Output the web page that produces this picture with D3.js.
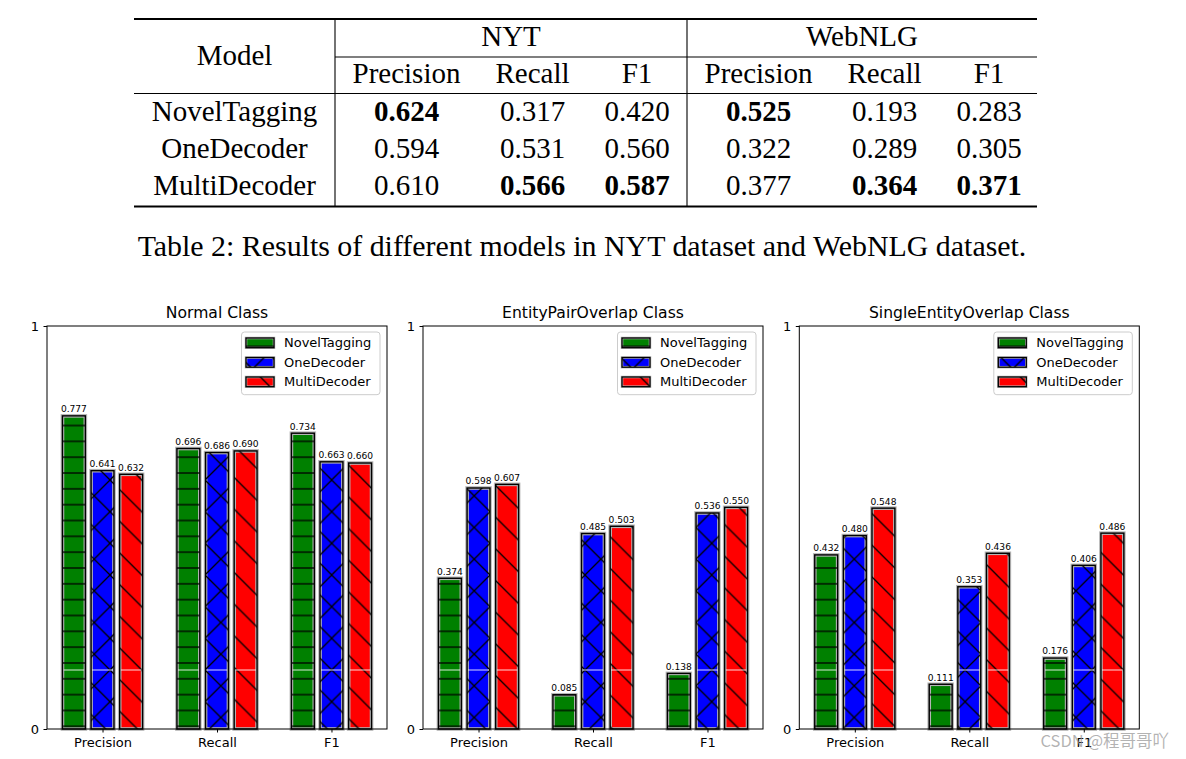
<!DOCTYPE html>
<html><head><meta charset="utf-8">
<script src="https://cdn.jsdelivr.net/npm/d3@7"></script>
<style>body{margin:0;background:#fff}svg{display:block}</style>
</head><body>
<svg id="c" width="1186" height="759"></svg>
<script>
// ---------------- data ----------------
const categories = ["Precision", "Recall", "F1"];
const models = ["NovelTagging", "OneDecoder", "MultiDecoder"];
const panelTitles = ["Normal Class", "EntityPairOverlap Class", "SingleEntityOverlap Class"];
const normalNovel = [0.777, 0.696, 0.734];
const normalOne   = [0.641, 0.686, 0.663];
const normalMulti = [0.632, 0.690, 0.660];
const pairNovel   = [0.374, 0.085, 0.138];
const pairOne     = [0.598, 0.485, 0.536];
const pairMulti   = [0.607, 0.503, 0.550];
const singleNovel = [0.432, 0.111, 0.176];
const singleOne   = [0.480, 0.353, 0.406];
const singleMulti = [0.548, 0.436, 0.486];
const yTickValues = [0, 1];
const modelColors = ["#008000", "#0000ff", "#ff0000"];

// table
const tableDatasets = ["NYT", "WebNLG"];
const tableMetrics = ["Precision", "Recall", "F1"];
const tableNovel = [0.624, 0.317, 0.420, 0.525, 0.193, 0.283];
const tableOne   = [0.594, 0.531, 0.560, 0.322, 0.289, 0.305];
const tableMulti = [0.610, 0.566, 0.587, 0.377, 0.364, 0.371];
const caption = "Table 2: Results of different models in NYT dataset and WebNLG dataset.";

// ---------------- drawing ----------------
const svg = d3.select("#c");
const defs = svg.append("defs");
const ph = 15.83, pd = 31.67;

// horizontal hatch
const pH = defs.append("pattern").attr("id", "hH").attr("patternUnits", "userSpaceOnUse")
  .attr("x", 0).attr("y", 726.3 - ph / 2).attr("width", ph).attr("height", ph);
pH.append("line").attr("x1", -1).attr("x2", ph + 1).attr("y1", ph / 2).attr("y2", ph / 2)
  .attr("stroke", "#000").attr("stroke-width", 1.3);
// cross hatch
const pX = defs.append("pattern").attr("id", "hX").attr("patternUnits", "userSpaceOnUse")
  .attr("x", 110).attr("y", 670).attr("width", pd).attr("height", pd);
pX.append("path").attr("d",
  `M0,0L${pd},${pd}M0,${-pd}L${2*pd},${pd}M${-pd},0L${pd},${2*pd}` +
  `M0,${pd}L${pd},0M${-pd},${pd}L${pd},${-pd}M0,${2*pd}L${2*pd},0`)
  .attr("stroke", "#000").attr("stroke-width", 1.3).attr("fill", "none");
// back-diagonal hatch
const pB = defs.append("pattern").attr("id", "hB").attr("patternUnits", "userSpaceOnUse")
  .attr("x", 110).attr("y", 670).attr("width", pd).attr("height", pd);
pB.append("path").attr("d", `M0,0L${pd},${pd}M0,${-pd}L${2*pd},${pd}M${-pd},0L${pd},${2*pd}`)
  .attr("stroke", "#000").attr("stroke-width", 1.3).attr("fill", "none");
const hatches = ["url(#hH)", "url(#hX)", "url(#hB)"];

// ---------- table ----------
const serif = "'Liberation Serif','Times New Roman',serif";
const tbl = svg.append("g").attr("font-family", serif).attr("fill", "#000");
const tLeft = 134, tRight = 1037, vLine1 = 335, vLine2 = 687;
const colX = [406.5, 532.5, 637, 758.5, 884.5, 989];
const modelX = (tLeft + vLine1) / 2;
const rule = (x1, x2, y, w) => tbl.append("line").attr("x1", x1).attr("x2", x2)
  .attr("y1", y).attr("y2", y).attr("stroke", "#000").attr("stroke-width", w);
rule(tLeft, tRight, 19, 1.8);
rule(vLine1, tRight, 57, 1.1);
rule(tLeft, tRight, 93.5, 1.1);
rule(tLeft, tRight, 206.5, 1.8);
[vLine1, vLine2].forEach(x => tbl.append("line").attr("x1", x).attr("x2", x)
  .attr("y1", 19).attr("y2", 206.5).attr("stroke", "#000").attr("stroke-width", 1.1));
const tText = (x, y, s, bold, size) => tbl.append("text").attr("x", x).attr("y", y)
  .attr("text-anchor", "middle").attr("font-size", size || 29)
  .attr("font-weight", bold ? "bold" : "normal").text(s);
tText(modelX, 64.5, "Model");
tText((vLine1 + vLine2) / 2, 46, tableDatasets[0]);
tText((vLine2 + tRight) / 2, 46, tableDatasets[1]);
colX.forEach((x, i) => tText(x, 83, tableMetrics[i % 3]));
const tableRows = [tableNovel, tableOne, tableMulti];
const colMax = colX.map((_, j) => d3.max(tableRows, r => r[j]));
tableRows.forEach((row, r) => {
  const y = 120.5 + r * 37;
  tText(modelX, y, models[r]);
  row.forEach((v, j) => tText(colX[j], y, d3.format(".3f")(v), v === colMax[j]));
});
tText(582, 256, caption, false, 29.9);

// ---------- bar panels ----------
const sans = "'DejaVu Sans', sans-serif";
const panels = [
  [normalNovel, normalOne, normalMulti],
  [pairNovel, pairOne, pairMulti],
  [singleNovel, singleOne, singleMulti]
];
const panelLefts = [47, 423, 799.3];
const pW = 340, pTop = 326, pBottom = 729;
const offsets = [-0.25, 0, 0.25], barW = 0.2;
const y = d3.scaleLinear().domain([0, 1]).range([pBottom, pTop]);

panels.forEach((series, pi) => {
  const L = panelLefts[pi];
  const x = d3.scaleLinear().domain([-0.485, 2.485]).range([L, L + pW]);
  const g = svg.append("g");
  series.forEach((vals, si) => {
    vals.forEach((v, ci) => {
      const x0 = x(ci + offsets[si] - barW / 2), x1 = x(ci + offsets[si] + barW / 2);
      const w = x1 - x0, yt = y(v), h = y(0) - yt;
      g.append("rect").attr("x", x0).attr("y", yt).attr("width", w).attr("height", h)
        .attr("fill", modelColors[si]).attr("stroke", "#b4b4b4").attr("stroke-width", 3.6);
      g.append("rect").attr("x", x0).attr("y", yt).attr("width", w).attr("height", h)
        .attr("fill", hatches[si]);
      if (v > 0.1464) {
        g.append("line").attr("x1", x0 + 1).attr("x2", x1 - 1)
          .attr("y1", y(0.1464)).attr("y2", y(0.1464))
          .attr("stroke", "#fff").attr("stroke-opacity", 0.85).attr("stroke-width", 1);
      }
      g.append("rect").attr("x", x0).attr("y", yt).attr("width", w).attr("height", h)
        .attr("fill", "none").attr("stroke", "#000").attr("stroke-width", 1.4);
      g.append("text").attr("x", (x0 + x1) / 2).attr("y", yt - 3.6)
        .attr("text-anchor", "middle").style("font-family", sans).style("font-size", "9.1px")
        .attr("fill", "#000").text(d3.format(".3f")(v));
    });
  });
  // frame
  svg.append("rect").attr("x", L).attr("y", pTop).attr("width", pW).attr("height", pBottom - pTop)
    .attr("fill", "none").attr("stroke", "#000").attr("stroke-width", 1);
  // axes
  const ax = svg.append("g").attr("transform", `translate(0,${pBottom})`)
    .call(d3.axisBottom(x).tickValues([0, 1, 2]).tickFormat(i => categories[i])
      .tickSize(3.5).tickPadding(5));
  const ay = svg.append("g").attr("transform", `translate(${L},0)`)
    .call(d3.axisLeft(y).tickValues(yTickValues).tickFormat(d3.format("d"))
      .tickSize(3.5).tickPadding(4.5));
  [ax, ay].forEach(a => {
    a.select(".domain").remove();
    a.attr("font-size", null).attr("font-family", null);
    a.selectAll("text").style("font-family", sans).style("font-size", "13px").attr("fill", "#000");
    a.selectAll("line").attr("stroke", "#000");
  });
  // title
  svg.append("text").attr("x", L + pW / 2).attr("y", 318).attr("text-anchor", "middle")
    .style("font-family", sans).style("font-size", "15.6px").attr("fill", "#000").text(panelTitles[pi]);
  // legend
  const lx = L + pW - 7 - 138.5, ly = pTop + 6;
  const lg = svg.append("g");
  lg.append("rect").attr("x", lx).attr("y", ly).attr("width", 138.5).attr("height", 62.7)
    .attr("rx", 3).attr("fill", "#fff").attr("fill-opacity", 0.8)
    .attr("stroke", "#cccccc").attr("stroke-width", 1);
  models.forEach((m, i) => {
    const ry = ly + 6 + i * 19.5;
    lg.append("rect").attr("x", lx + 4.5).attr("y", ry).attr("width", 28).attr("height", 9.7)
      .attr("fill", modelColors[i]).attr("stroke", "#b4b4b4").attr("stroke-width", 2.5);
    lg.append("rect").attr("x", lx + 4.5).attr("y", ry).attr("width", 28).attr("height", 9.7)
      .attr("fill", hatches[i]).attr("stroke", "#000").attr("stroke-width", 1.3);
    lg.append("text").attr("x", lx + 42.5).attr("y", ry + 9.3).style("font-family", sans)
      .style("font-size", "13px").attr("fill", "#000").text(m);
  });
});

// watermark
svg.append("text").attr("x", 1169).attr("y", 747).attr("text-anchor", "end")
  .style("font-family", "'Noto Sans CJK SC', sans-serif").style("font-size", "16.5px")
  .attr("fill", "#9a9a9a").attr("fill-opacity", 0.75).text("CSDN @程哥哥吖");
</script>
</body></html>
